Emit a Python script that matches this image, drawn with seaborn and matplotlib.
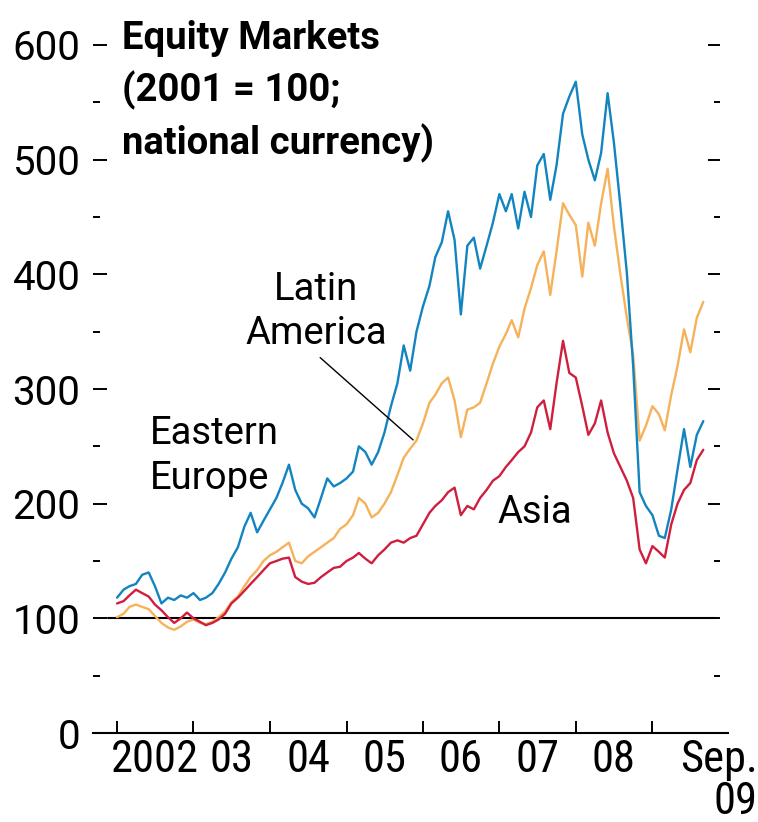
import numpy as np
import pandas as pd
import matplotlib
matplotlib.use("Agg")
import matplotlib.pyplot as plt
from matplotlib import font_manager
import seaborn as sns

# monthly index levels, Jan 2002 - Sep 2009 (2001 = 100)
months = pd.date_range("2002-01-01", "2009-09-01", freq="MS")

eastern_europe = [
    118, 125, 128, 130, 138, 140, 128, 113, 118, 116, 120, 118,
    122, 116, 118, 122, 130, 140, 152, 162, 180, 192, 175, 185,
    195, 205, 218, 234, 212, 200, 196, 188, 205, 222, 215, 218,
    222, 228, 250, 245, 234, 245, 262, 285, 305, 338, 316, 350,
    372, 390, 415, 428, 455, 430, 365, 425, 432, 405, 425, 445,
    470, 455, 470, 440, 472, 450, 495, 505, 465, 495, 540, 555,
    568, 522, 500, 482, 506, 558, 515, 460, 401, 320, 210, 198,
    190, 172, 170, 195, 230, 265, 232, 260, 272,
]
latin_america = [
    101, 104, 110, 112, 110, 108, 102, 96, 92, 90, 93, 97,
    99, 96, 95, 97, 101, 106, 114, 119, 128, 136, 142, 150,
    155, 158, 162, 166, 150, 148, 154, 158, 162, 166, 170, 178,
    182, 190, 205, 200, 188, 192, 200, 210, 225, 240, 248, 255,
    270, 288, 295, 305, 310, 290, 258, 282, 284, 288, 305, 322,
    337, 348, 360, 345, 370, 388, 408, 420, 382, 420, 462, 452,
    443, 398, 445, 425, 462, 492, 442, 400, 362, 330, 255, 268,
    285, 278, 264, 295, 320, 352, 332, 362, 376,
]
asia = [
    113, 115, 120, 125, 122, 119, 112, 107, 101, 96, 100, 105,
    100, 97, 94, 96, 99, 104, 113, 118, 124, 130, 136, 142,
    148, 150, 152, 153, 136, 132, 130, 131, 136, 140, 144, 145,
    150, 153, 157, 152, 148, 155, 160, 166, 168, 166, 170, 172,
    182, 192, 198, 203, 210, 214, 190, 198, 195, 205, 212, 220,
    224, 232, 238, 245, 250, 262, 284, 290, 265, 305, 342, 314,
    310, 285, 260, 270, 290, 262, 244, 232, 220, 205, 160, 148,
    163, 158, 153, 182, 200, 212, 218, 238, 247,
]

region_names = ["Latin America", "Asia", "Eastern Europe"]
region_colors = {"Latin America": "#f6b25a", "Asia": "#cf1f3e", "Eastern Europe": "#1284c0"}
year_labels = ["2002", "03", "04", "05", "06", "07", "08", "Sep.\n09"]

df = pd.concat([
    pd.DataFrame({"date": months, "value": latin_america, "region": "Latin America"}),
    pd.DataFrame({"date": months, "value": asia, "region": "Asia"}),
    pd.DataFrame({"date": months, "value": eastern_europe, "region": "Eastern Europe"}),
])

sns.set_theme(style="white")

available = {f.name for f in font_manager.fontManager.ttflist}
narrow = "Roboto Condensed" if "Roboto Condensed" in available else "Liberation Sans Narrow"
plt.rcParams["font.family"] = ["Roboto", "DejaVu Sans"]
plt.rcParams["text.color"] = "black"
plt.rcParams["xtick.color"] = "black"
plt.rcParams["ytick.color"] = "black"

fig = plt.figure(figsize=(7.58, 8.22), dpi=100)
ax = fig.add_axes([93 / 758, 89 / 822, 635 / 758, 688 / 822])

sns.lineplot(data=df, x="date", y="value", hue="region", hue_order=region_names,
             palette=region_colors, linewidth=1.7, legend=False, ax=ax)

ax.axhline(100, xmin=0.024, xmax=0.981, color="black", lw=1.5, zorder=1)

ax.set_ylim(0, 600)
ax.set_xlim(pd.Timestamp("2001-09-08"), pd.Timestamp("2009-12-28"))
ax.set_xlabel("")
ax.set_ylabel("")

for side in ["top", "left", "right"]:
    ax.spines[side].set_visible(False)
ax.spines["bottom"].set_linewidth(1.5)
ax.spines["bottom"].set_color("black")

# y ticks, labels on the left
ax.set_yticks(range(0, 601, 100))
ax.set_yticks(range(50, 600, 100), minor=True)
ax.tick_params(axis="y", which="both", left=True, right=False, direction="in",
               width=1.4, labelsize=29, pad=9)
ax.tick_params(axis="y", which="major", length=10)
ax.tick_params(axis="y", which="minor", length=5)

# unlabelled ticks just inside the right end
sec = ax.secondary_yaxis(0.987)
sec.set_yticks(range(0, 601, 100))
sec.set_yticks(range(50, 600, 100), minor=True)
sec.tick_params(axis="y", which="both", direction="in", width=1.4, labelright=False)
sec.tick_params(axis="y", which="major", length=9)
sec.tick_params(axis="y", which="minor", length=4)
sec.spines["right"].set_visible(False)
sec.spines["left"].set_visible(False)
sec.set_yticklabels([])
sec.set_yticklabels([], minor=True)

# year boundaries as ticks, labels centred between them
ax.set_xticks(pd.date_range("2002-01-01", "2009-01-01", freq="YS"))
ax.set_xticklabels([])
mid = list(pd.date_range("2002-07-01", periods=7, freq="12MS")) + [pd.Timestamp("2009-11-13")]
ax.set_xticks(mid, minor=True)
ax.set_xticklabels(year_labels, minor=True)
ax.tick_params(axis="x", which="major", bottom=True, direction="in", length=9, width=1.4)
ax.tick_params(axis="x", which="minor", bottom=True, length=0, labelsize=32, pad=4)
for lbl in ax.get_xticklabels(minor=True):
    lbl.set_fontfamily(narrow)
    lbl.set_multialignment("right")
    lbl.set_linespacing(1.0)

# region labels
ax.text(pd.Timestamp("2004-08-10"), 403, "Latin\nAmerica", fontsize=27.5,
        ha="center", va="top", linespacing=1.25)
ax.text(pd.Timestamp("2002-06-05"), 277, "Eastern\nEurope", fontsize=27.5,
        ha="left", va="top", linespacing=1.25)
ax.text(pd.Timestamp("2006-12-25"), 208, "Asia", fontsize=27.5, ha="left", va="top")
ax.annotate("", xy=(pd.Timestamp("2005-11-25"), 254), xytext=(pd.Timestamp("2004-08-18"), 329),
            arrowprops=dict(arrowstyle="-", color="black", lw=1.0))

fig.text(122 / 758, 1 - 20 / 822, "Equity Markets\n(2001 = 100;\nnational currency)",
         fontsize=27.5, fontweight="bold", ha="left", va="top", linespacing=1.44)

fig.savefig("out.png", dpi=100, facecolor="white")
